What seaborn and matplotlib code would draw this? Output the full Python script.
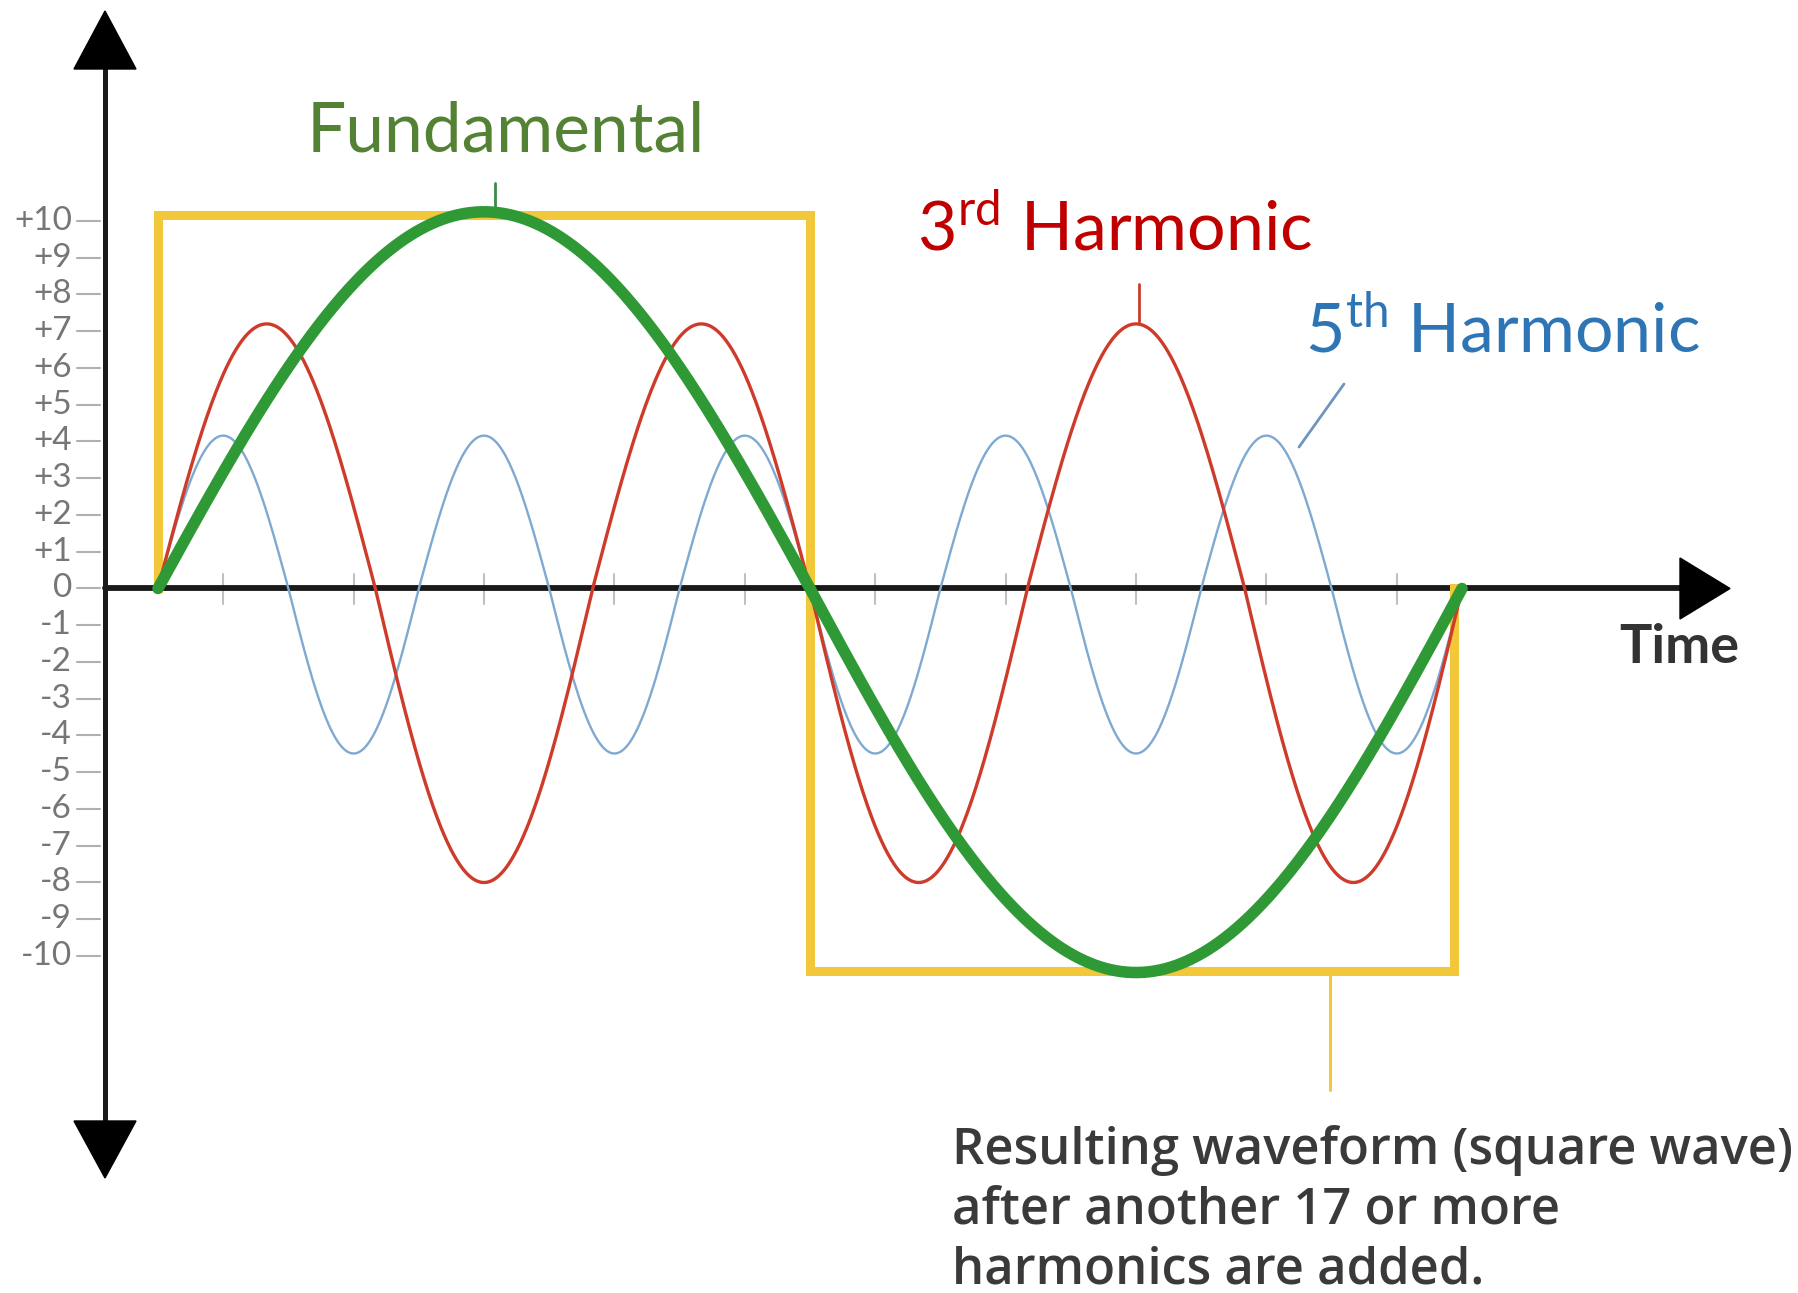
import numpy as np
import pandas as pd
import seaborn as sns
import matplotlib.pyplot as plt

# harmonic orders and peak heights (positive lobe / negative lobe)
harmonics = ['Fundamental', '3rd Harmonic', '5th Harmonic']
orders = [1, 3, 5]
pos_peaks = [10.25, 7.2, 4.16]
neg_peaks = [10.45, 8.0, 4.49]

# resulting square wave corners (time in periods, value)
square_t = [0.0, 0.0, 0.5, 0.5, 0.994, 0.994]
square_v = [0.0, 10.15, 10.15, -10.42, -10.42, 0.0]

y_ticks = [10, 9, 8, 7, 6, 5, 4, 3, 2, 1, 0, -1, -2, -3, -4, -5, -6, -7, -8, -9, -10]
y_tick_labels = ['+10', '+9', '+8', '+7', '+6', '+5', '+4', '+3', '+2', '+1', '0',
                 '-1', '-2', '-3', '-4', '-5', '-6', '-7', '-8', '-9', '-10']
x_ticks = [0.05, 0.15, 0.25, 0.35, 0.45, 0.55, 0.65, 0.75, 0.85, 0.95]

line_colors = {'Fundamental': '#2f9a35', '3rd Harmonic': '#cf3b2a', '5th Harmonic': '#7ea9d1'}
line_widths = {'Fundamental': 8.3, '3rd Harmonic': 2.4, '5th Harmonic': 1.7}
yellow = '#f3c73a'

sns.set_theme(style='white')
plt.rcParams['font.family'] = ['Lato', 'DejaVu Sans']

# pixel layout of the reference: t=0 at x=158, one period = 1304 px; y=0 at 588.5, 36.75 px per unit
X0, XS, Y0, YS = 158, 1304, 588.5, 36.75
W, H = 1798, 1293


def px(x, y):
    return (x - X0) / XS, (Y0 - y) / YS


fig = plt.figure(figsize=(W / 100, H / 100), dpi=100)
ax = fig.add_axes([0, 0, 1, 1])
ax.set_xlim(-X0 / XS, (W - X0) / XS)
ax.set_ylim(-(H - Y0) / YS, Y0 / YS)
ax.axis('off')

# waves
t = np.linspace(0, 1, 1200)
rows = []
for name, n, p, q in zip(harmonics, orders, pos_peaks, neg_peaks):
    s = np.sin(2 * np.pi * n * t)
    rows.append(pd.DataFrame({'t': t, 'v': np.where(s >= 0, s * p, s * q), 'wave': name}))
waves = pd.concat(rows)

sq = pd.DataFrame({'t': square_t, 'v': square_v})
sns.lineplot(data=sq, x='t', y='v', sort=False, estimator=None, color=yellow,
             lw=6.5, ax=ax, zorder=2)
ax.lines[-1].set_solid_capstyle('projecting')
ax.lines[-1].set_solid_joinstyle('miter')

for name in ['5th Harmonic', '3rd Harmonic', 'Fundamental']:
    sns.lineplot(data=waves[waves['wave'] == name], x='t', y='v', sort=False,
                 estimator=None, color=line_colors[name], lw=line_widths[name],
                 ax=ax, zorder=3)

# axes with arrows
axis_col = '#1a1a1a'
ax.plot(*zip(px(105, 40), px(105, 1150)), color=axis_col, lw=3.6, zorder=1)
ax.plot(*zip(px(105, 588.5), px(1690, 588.5)), color=axis_col, lw=4.2, zorder=1)
for tri in ([(105, 11), (74, 69), (136, 69)],
            [(105, 1178), (74, 1121), (136, 1121)],
            [(1730, 588.5), (1680, 558), (1680, 619)]):
    xs, ys = zip(*[px(a, b) for a, b in tri])
    ax.fill(xs, ys, color='black', zorder=4)

# y ticks and labels
for v, lab in zip(y_ticks, y_tick_labels):
    ax.plot([px(77, 0)[0], px(100, 0)[0]], [v, v], color='#b0b0b0', lw=1.5, zorder=1)
    ax.text(px(72, 0)[0], v, lab, ha='right', va='center', color='#767676', fontsize=24)

# x ticks
for xt in x_ticks:
    ax.plot([xt, xt], [px(0, 574)[1], px(0, 604)[1]], color='#c0c0c0', lw=1.5, zorder=0.5)

# labels
ax.text(*px(307, 152), 'Fundamental', color='#548235', fontsize=50, va='baseline')
ax.text(*px(917, 250), '3$^{\\mathregular{rd}}$ Harmonic', color='#c00000', fontsize=49,
        va='baseline')
ax.text(*px(1305, 353), '5$^{\\mathregular{th}}$ Harmonic', color='#2e75b6', fontsize=49,
        va='baseline')
ax.text(*px(1619, 663), 'Time', color='#333333', fontsize=39, fontweight='bold',
        va='baseline')
for i, line in enumerate(['Resulting waveform (square wave)', 'after another 17 or more',
                          'harmonics are added.']):
    ax.text(*px(952, 1164 + 60 * i), line, color='#3a3a3a', fontsize=36.5,
            family=['Open Sans', 'DejaVu Sans'], fontweight='semibold', va='baseline')

# leader lines
ax.plot(*zip(px(495, 183), px(495, 212)), color='#3a8a4a', lw=2)
ax.plot(*zip(px(1139, 284), px(1139, 322)), color=line_colors['3rd Harmonic'], lw=2)
ax.plot(*zip(px(1344, 384), px(1299, 447)), color='#6f95bd', lw=2)
ax.plot(*zip(px(1330, 975), px(1330, 1090)), color=yellow, lw=2.2)

fig.savefig('out.png', dpi=100)
